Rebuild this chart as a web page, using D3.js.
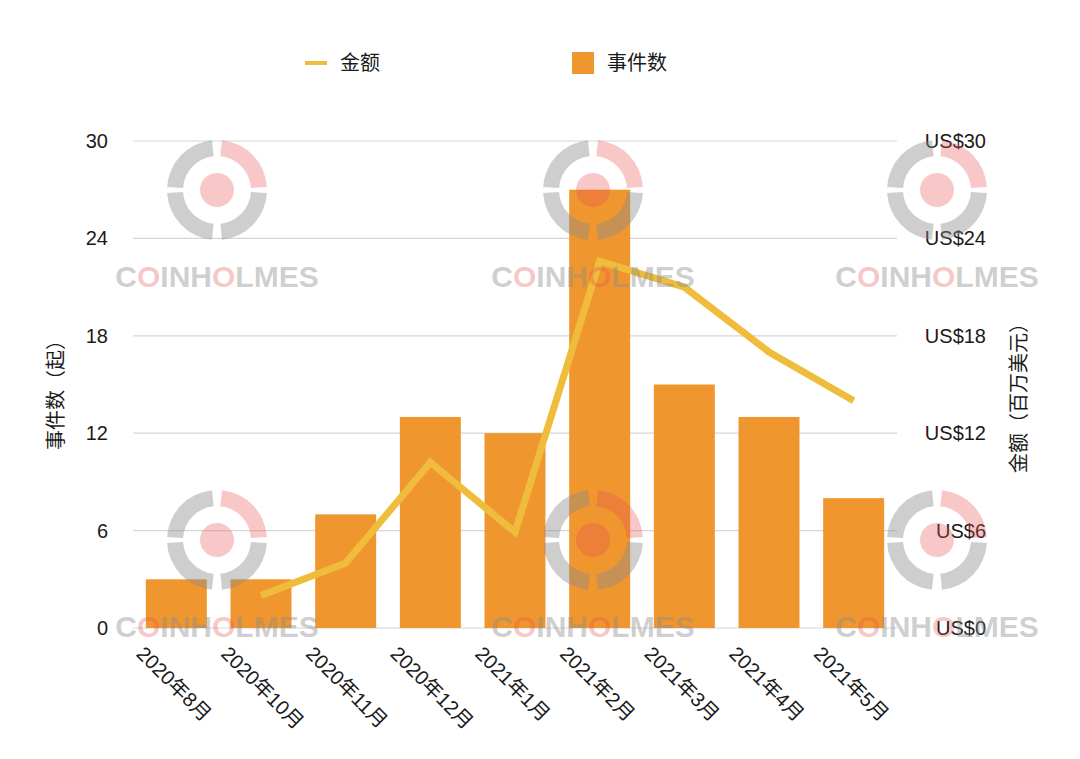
<!DOCTYPE html>
<html>
<head>
<meta charset="utf-8">
<script src="https://cdn.jsdelivr.net/npm/d3@7"></script>
<style>
html,body{margin:0;padding:0;background:#fff;}
svg{display:block;font-family:"Liberation Sans","Noto Sans CJK SC",Arial,sans-serif;}
</style>
</head>
<body>
<svg id="chart" width="1080" height="759"></svg>
<script>
const categories = ["2020年8月","2020年10月","2020年11月","2020年12月","2021年1月","2021年2月","2021年3月","2021年4月","2021年5月"];
const incidents = [3,3,7,13,12,27,15,13,8];
const amounts = [null,2.0,4.0,10.2,5.9,22.6,21.0,17.0,14.0];
const leftTicks = [0,6,12,18,24,30];
const rightTicks = [0,6,12,18,24,30];
const rightTickLabels = ["US$0","US$6","US$12","US$18","US$24","US$30"];
const legendLabels = ["金额","事件数"];
const leftTitle = "事件数（起）";
const rightTitle = "金额（百万美元）";

const barColor = "#F0962F";
const lineColor = "#EFBD3B";
const gridColor = "#D6D6D6";
const textColor = "#1a1a1a";

const svg = d3.select("#chart");
const x = d3.scaleBand().domain(categories).range([134, 896]).paddingInner(0.28).paddingOuter(0.14);
const yL = d3.scaleLinear().domain([0,30]).range([628,141]);
const yR = d3.scaleLinear().domain([0,30]).range([628,141]);

// gridlines
svg.append("g").selectAll("line").data(leftTicks).join("line")
  .attr("x1", 133).attr("x2", 897)
  .attr("y1", d => yL(d)).attr("y2", d => yL(d))
  .attr("stroke", gridColor).attr("stroke-width", 1.2);

// left axis
const leftAxis = d3.axisLeft(yL).tickValues(leftTicks).tickSize(0).tickPadding(0);
const gL = svg.append("g").attr("transform","translate(108,0)").call(leftAxis);
gL.select(".domain").remove();
gL.selectAll("text").attr("font-size",20).attr("fill",textColor).attr("font-family","Liberation Sans, Arial, sans-serif");

// right axis
const rightAxis = d3.axisLeft(yR).tickValues(rightTicks).tickSize(0).tickPadding(0)
  .tickFormat((d,i) => rightTickLabels[rightTicks.indexOf(d)]);
const gR = svg.append("g").attr("transform","translate(986,0)").call(rightAxis);
gR.select(".domain").remove();
gR.selectAll("text").attr("font-size",20).attr("fill",textColor).attr("font-family","Liberation Sans, Arial, sans-serif");

// bars
svg.append("g").selectAll("rect").data(incidents).join("rect")
  .attr("x", (d,i) => x(categories[i]))
  .attr("y", d => yL(d))
  .attr("width", x.bandwidth())
  .attr("height", d => yL(0) - yL(d))
  .attr("fill", barColor);

// line
const line = d3.line()
  .defined(d => d.v !== null)
  .x(d => x(d.c) + x.bandwidth()/2)
  .y(d => yR(d.v));
svg.append("path")
  .datum(categories.map((c,i) => ({c, v: amounts[i]})))
  .attr("d", line)
  .attr("fill","none").attr("stroke", lineColor).attr("stroke-width", 7)
  .attr("stroke-linejoin","miter");

// x labels
svg.append("g").selectAll("text").data(categories).join("text")
  .attr("transform", d => `translate(${x(d) + x.bandwidth()/2 - 41},655) rotate(45)`)
  .attr("font-size", 20).attr("fill", textColor)
  .text(d => d);

// axis titles
svg.append("text").attr("transform","translate(63,390) rotate(-90)")
  .attr("text-anchor","middle").attr("font-size",20).attr("fill",textColor)
  .attr("font-family","Noto Sans CJK SC, sans-serif").text(leftTitle);
svg.append("text").attr("transform","translate(1026,393) rotate(-90)")
  .attr("text-anchor","middle").attr("font-size",20).attr("fill",textColor)
  .attr("font-family","Noto Sans CJK SC, sans-serif").text(rightTitle);

// legend
const lg = svg.append("g");
lg.append("line").attr("x1",305).attr("x2",327).attr("y1",63).attr("y2",63)
  .attr("stroke",lineColor).attr("stroke-width",4);
lg.append("text").attr("x",340).attr("y",70).attr("font-size",20).attr("fill",textColor)
  .attr("font-family","Noto Sans CJK SC, sans-serif").text(legendLabels[0]);
lg.append("rect").attr("x",572).attr("y",52).attr("width",22).attr("height",22).attr("fill",barColor);
lg.append("text").attr("x",607).attr("y",70).attr("font-size",20).attr("fill",textColor)
  .attr("font-family","Noto Sans CJK SC, sans-serif").text(legendLabels[1]);

// watermarks
const wmCols = [217, 593, 937];
const wmRows = [190, 540];
const wm = svg.append("g").attr("pointer-events","none");
const arc = d3.arc().innerRadius(34).outerRadius(50);
const grey = "#8a8a8a", pink = "#e85050";
wmRows.forEach(cy => wmCols.forEach(cx => {
  const g = wm.append("g").attr("transform",`translate(${cx},${cy})`);
  const gapA = 0.1;
  // quadrants: top-right pink, others grey
  const segs = [
    {s: gapA, e: Math.PI/2 - 0.06, c: pink},
    {s: Math.PI/2 + 0.06, e: Math.PI - gapA, c: grey},
    {s: Math.PI + gapA, e: 3*Math.PI/2 - 0.06, c: grey},
    {s: 3*Math.PI/2 + 0.06, e: 2*Math.PI - gapA, c: grey}
  ];
  segs.forEach(sg => g.append("path").attr("d", arc({startAngle: sg.s, endAngle: sg.e}))
    .attr("fill", sg.c).attr("opacity", sg.c === pink ? 0.32 : 0.42));
  g.append("circle").attr("cx",0).attr("cy",0).attr("r",17).attr("fill",pink).attr("opacity",0.32);
  const t = wm.append("text").attr("x",cx).attr("y",cy+97).attr("text-anchor","middle")
    .attr("font-size",30).attr("font-weight","bold").attr("font-family","Liberation Sans, Arial, sans-serif");
  "COINHOLMES".split("").forEach((ch,i) => {
    t.append("tspan").text(ch).attr("fill", (i===1||i===5) ? pink : grey)
     .attr("fill-opacity", (i===1||i===5) ? 0.32 : 0.42);
  });
}));
</script>
</body>
</html>
